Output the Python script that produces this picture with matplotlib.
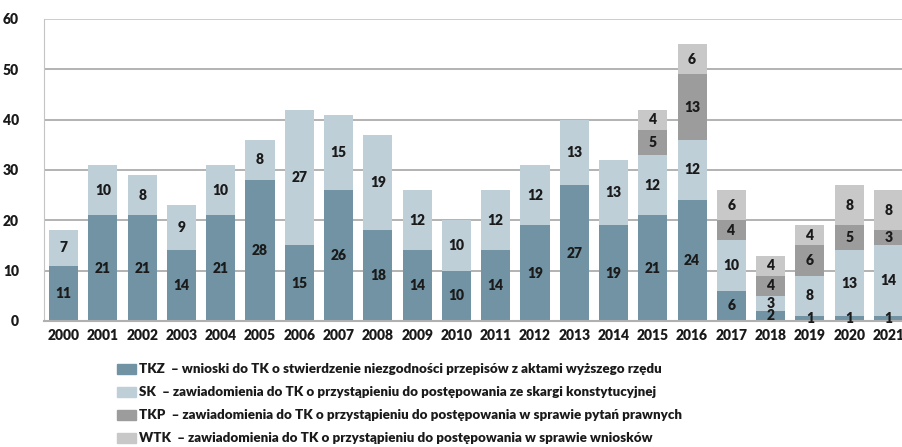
import numpy as np
import matplotlib.pyplot as plt
from matplotlib.patches import Rectangle

plt.rcParams['font.family'] = ['Lato', 'DejaVu Sans']
plt.rcParams['font.weight'] = 'heavy'

years = [str(y) for y in range(2000, 2022)]
tkz = [11, 21, 21, 14, 21, 28, 15, 26, 18, 14, 10, 14, 19, 27, 19, 21, 24, 6, 2, 1, 1, 1]
sk = [7, 10, 8, 9, 10, 8, 27, 15, 19, 12, 10, 12, 12, 13, 13, 12, 12, 10, 3, 8, 13, 14]
tkp = [0] * 15 + [5, 13, 4, 4, 6, 5, 3]
wtk = [0] * 15 + [4, 6, 6, 4, 4, 8, 8]

series = [tkz, sk, tkp, wtk]
colors = ['#7193a3', '#bfcfd8', '#9c9c9c', '#c8c8c8']
legend_labels = [
    'TKZ  – wnioski do TK o stwierdzenie niezgodności przepisów z aktami wyższego rzędu',
    'SK  – zawiadomienia do TK o przystąpieniu do postępowania ze skargi konstytucyjnej',
    'TKP  – zawiadomienia do TK o przystąpieniu do postępowania w sprawie pytań prawnych',
    'WTK  – zawiadomienia do TK o przystąpieniu do postępowania w sprawie wniosków',
]
W_ = 'heavy'

fig = plt.figure(figsize=(9.03, 4.47), dpi=100)
ax = fig.add_axes([0.0487, 0.282, 0.957, 0.6755])

x = np.arange(len(years))
bottom = np.zeros(len(years))
for vals, col in zip(series, colors):
    vals = np.array(vals)
    ax.bar(x, vals, 0.74, bottom=bottom, color=col, zorder=2)
    for xi, b, v in zip(x, bottom, vals):
        if v > 0:
            ax.text(xi, b + v / 2, str(v), ha='center', va='center',
                    fontsize=10, fontweight=W_, color='#1a1a1a', zorder=3)
    bottom += vals

ax.set_xlim(-0.5, len(years) - 0.5)
ax.set_ylim(0, 60)
ax.set_yticks(range(0, 61, 10))
ax.set_xticks(x)
ax.set_xticklabels(years)
ax.tick_params(axis='both', length=0, labelsize=10, colors='#1a1a1a')
ax.tick_params(axis='y', pad=18)
ax.tick_params(axis='x', pad=6)
for t in ax.get_xticklabels() + ax.get_yticklabels():
    t.set_fontweight(W_)

for yv in range(10, 60, 10):
    ax.axhline(yv, color='#a6a6a6', lw=1.2, zorder=1)
ax.axhline(60, color='#c4c4c4', lw=1.2, zorder=1)
for s in ['top', 'right']:
    ax.spines[s].set_visible(False)
ax.spines['left'].set_color('#c4c4c4')
ax.spines['bottom'].set_color('#b0b0b0')
ax.spines['bottom'].set_linewidth(1.5)

# legend drawn by hand below the axes
W, H = 903, 447
for i, (lab, col) in enumerate(zip(legend_labels, colors)):
    yc = 369 + i * 23
    fig.add_artist(Rectangle((117 / W, 1 - (yc + 5) / H), 19 / W, 10 / H,
                             transform=fig.transFigure, color=col))
    fig.text(139 / W, 1 - yc / H, lab, ha='left', va='center',
             fontsize=9.65, fontweight=W_, color='#1a1a1a')

fig.savefig('out.png', dpi=100)
